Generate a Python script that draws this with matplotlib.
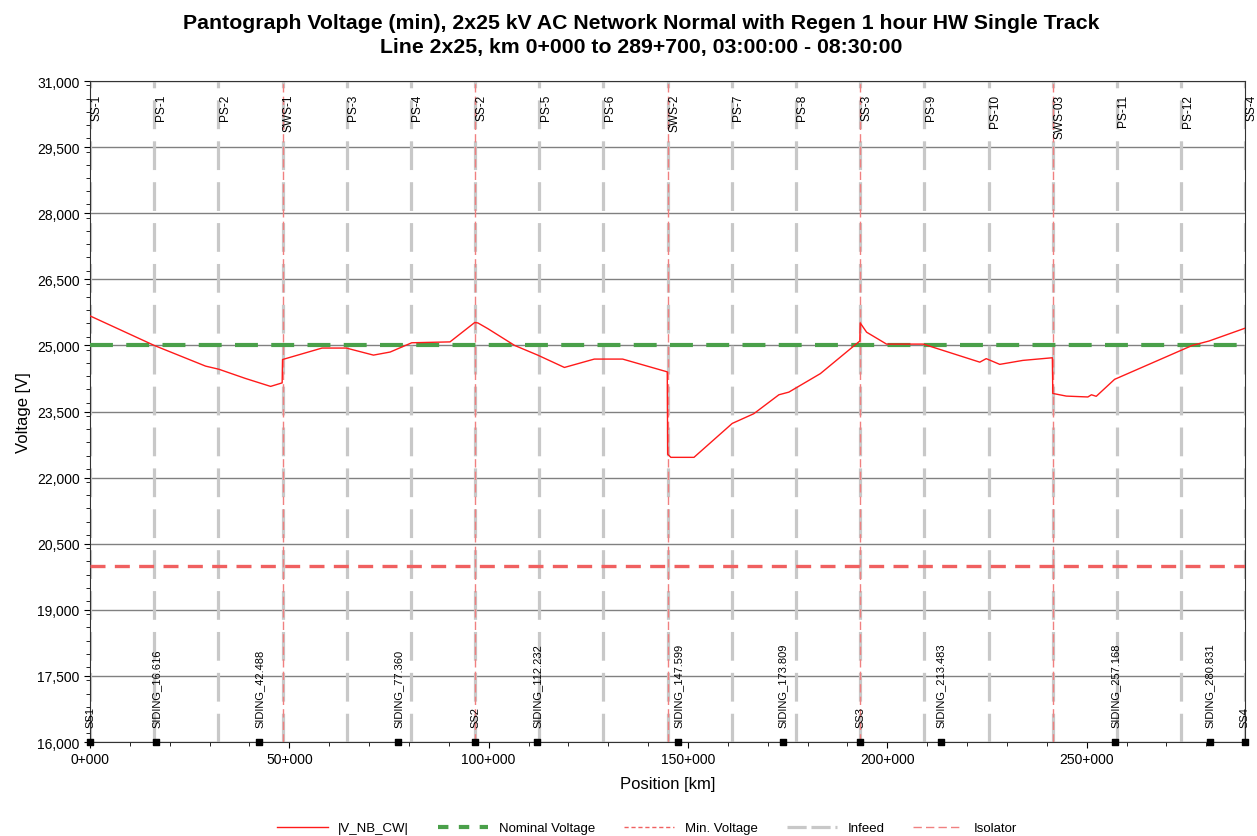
import numpy as np
import matplotlib.pyplot as plt
from matplotlib.lines import Line2D
from matplotlib.ticker import FixedLocator, MultipleLocator, FuncFormatter

plt.rcParams['font.family'] = ['Liberation Sans', 'DejaVu Sans']

# |V_NB_CW| curve (km, V)
pos_km = [0.0, 16.1, 29.0, 32.3, 39.0, 45.3, 48.2, 48.3, 58.2, 64.3, 71.1, 75.3,
          80.7, 90.3, 96.5, 97.3, 99.8, 106.5, 112.3, 119.0, 126.5, 133.6, 144.8,
          144.9, 145.7, 151.5, 161.1, 166.5, 172.8, 175.3, 183.2, 193.1, 193.2,
          194.8, 199.8, 209.0, 223.2, 224.8, 228.2, 234.0, 241.4, 241.5, 244.9,
          250.3, 251.2, 252.4, 257.0, 276.5, 280.7, 289.7]
voltage = [25670, 25000, 24530, 24460, 24250, 24070, 24150, 24680, 24940, 24940,
           24780, 24850, 25060, 25080, 25520, 25510, 25380, 25000, 24780, 24500,
           24690, 24690, 24400, 22530, 22460, 22460, 23230, 23450, 23880, 23940,
           24360, 25100, 25510, 25300, 25030, 25030, 24620, 24700, 24570, 24660,
           24720, 23910, 23850, 23830, 23880, 23845, 24230, 25000, 25100, 25390]

nominal_v = 25000
min_v = 20000

# infeed / isolator locations along the line
infeed_names = ['SS-1', 'PS-1', 'PS-2', 'SWS-1', 'PS-3', 'PS-4', 'SS-2', 'PS-5', 'PS-6',
                'SWS-2', 'PS-7', 'PS-8', 'SS-3', 'PS-9', 'PS-10', 'SWS-03', 'PS-11',
                'PS-12', 'SS-4']
infeed_km = [0.0, 16.1, 32.2, 48.3, 64.4, 80.5, 96.6, 112.7, 128.8, 144.9, 161.0,
             177.1, 193.2, 209.3, 225.4, 241.5, 257.6, 273.7, 289.7]
isolator_km = [48.3, 96.6, 144.9, 193.2, 241.5]

# stations along the bottom
station_names = ['SS1', 'SIDING_16.616', 'SIDING_42.488', 'SIDING_77.360', 'SS2',
                 'SIDING_112.232', 'SIDING_147.599', 'SIDING_173.809', 'SS3',
                 'SIDING_213.483', 'SIDING_257.168', 'SIDING_280.831', 'SS4']
station_km = [0.0, 16.616, 42.488, 77.360, 96.6, 112.232, 147.599, 173.809, 193.2,
              213.483, 257.168, 280.831, 289.7]

fig = plt.figure(figsize=(12.57, 8.37), dpi=100)
ax = fig.add_axes([0.0716, 0.1123, 0.9188, 0.7897])

ax.set_xlim(0, 289.7)
ax.set_ylim(16000, 31000)

gray = '#c8c8c8'
iso_red = '#f08080'

for x in infeed_km:
    ax.axvline(x, color=gray, lw=2.3, linestyle=(0, (9.0, 3.8)), zorder=1)
for x in isolator_km:
    ax.axvline(x, color=iso_red, lw=1.0, linestyle=(0, (6, 3)), zorder=2)

ax.axhline(nominal_v, color='#4aa04a', lw=3.0, linestyle=(0, (5.5, 3.2)), zorder=3)
ax.axhline(min_v, color='#f06060', lw=2.4, linestyle=(0, (4.5, 2.8)), zorder=3)

ax.plot(pos_km, voltage, color='#ff1a1a', lw=1.0, zorder=5)

for name, x in zip(infeed_names, infeed_km):
    ax.annotate(name, xy=(x, 1), xycoords=('data', 'axes fraction'),
                xytext=(0.3, -9), textcoords='offset points',
                rotation=90, ha='left', va='top', fontsize=8.6, annotation_clip=False)

ax.scatter(station_km, [16000] * len(station_km), marker='s', s=14, color='black',
           zorder=6, clip_on=False)
for name, x in zip(station_names, station_km):
    ax.annotate(name, xy=(x, 16000), xytext=(0, 11), textcoords='offset points',
                rotation=90, ha='center', va='bottom', fontsize=8, annotation_clip=False)

ax.yaxis.set_major_locator(FixedLocator(np.arange(16000, 31001, 1500)))
ax.yaxis.set_minor_locator(MultipleLocator(300))
ax.yaxis.set_major_formatter(FuncFormatter(lambda v, p: f'{int(v):,}'))
ax.xaxis.set_major_locator(FixedLocator([0, 50, 100, 150, 200, 250]))
ax.xaxis.set_minor_locator(MultipleLocator(10))
ax.xaxis.set_major_formatter(FuncFormatter(lambda v, p: f'{int(v)}+000'))
ax.tick_params(axis='both', which='major', labelsize=10, length=4, direction='out')
ax.tick_params(axis='both', which='minor', length=3, direction='out')

ax.grid(axis='y', which='major', color='#808080', lw=1.0)
ax.set_axisbelow(True)
for sp in ax.spines.values():
    sp.set_color('#333333')

ax.set_xlabel('Position [km]', fontsize=12, labelpad=7)
ax.set_ylabel('Voltage [V]', fontsize=12, labelpad=4)

fig.text(0.51, 0.983,
         'Pantograph Voltage (min), 2x25 kV AC Network Normal with Regen 1 hour HW Single Track\n'
         'Line 2x25, km 0+000 to 289+700, 03:00:00 - 08:30:00',
         ha='center', va='top', fontsize=15.3, fontweight='bold', linespacing=1.3)

handles = [
    Line2D([], [], color='#ff1a1a', lw=1.0),
    Line2D([], [], color='#4aa04a', lw=3.0, linestyle=(0, (2.5, 2.5))),
    Line2D([], [], color='#f06060', lw=1.0, linestyle=(0, (3, 2))),
    Line2D([], [], color=gray, lw=2.3, linestyle=(0, (6, 1.5))),
    Line2D([], [], color=iso_red, lw=1.0, linestyle=(0, (6, 3))),
]
labels = ['|V_NB_CW|', 'Nominal Voltage', 'Min. Voltage', 'Infeed', 'Isolator']
fig.legend(handles, labels, loc='lower center', bbox_to_anchor=(0.515, -0.012), ncol=5,
           frameon=False, fontsize=9.5, handlelength=3.8, columnspacing=2.2)

fig.savefig('out.png', dpi=100)
